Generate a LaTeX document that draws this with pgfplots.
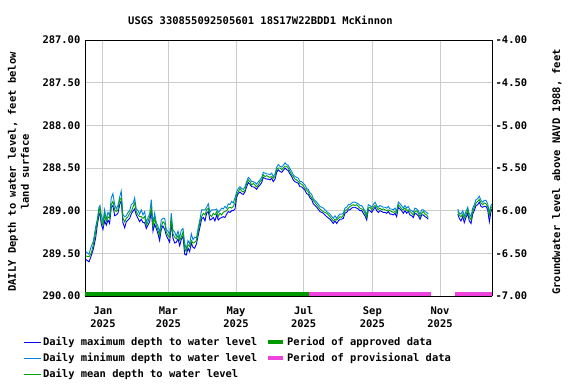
\documentclass[border=0pt]{standalone}
\usepackage{fontspec}
\setmainfont{DejaVu Sans Mono}
\usepackage{pgfplots}
\usepackage{pgfplotstable}
\pgfplotsset{compat=1.18}
\definecolor{maxc}{RGB}{0,0,255}
\definecolor{minc}{RGB}{0,130,220}
\definecolor{meanc}{RGB}{0,160,0}
\definecolor{apprc}{RGB}{0,153,0}
\definecolor{provc}{RGB}{238,68,221}
\definecolor{gridc}{RGB}{204,204,204}
\newcommand\f{\fontsize{10.5}{13}\selectfont\bfseries}
% day = days since 2025-01-01; depth in feet below land surface
\pgfplotstableread{
day max min mean
-15.6 289.57 289.48 289.53
-12.6 289.60 289.51 289.54
-10.6 289.53 289.42 289.50
-8.7 289.45 289.36 289.40
-6.6 289.32 289.19 289.25
-5.1 289.17 289.10 289.13
-3.6 289.05 288.96 289.01
-2.7 289.03 288.94 288.97
-1.5 289.16 289.05 289.13
0.0 289.22 289.13 289.17
1.5 289.12 288.99 289.05
3.0 289.17 289.10 289.13
4.5 289.11 289.02 289.07
6.0 289.15 289.06 289.09
7.5 288.96 288.85 288.93
9.0 288.94 288.80 288.89
10.6 289.06 288.93 288.99
12.0 289.05 288.98 289.01
13.5 289.03 288.94 288.99
15.1 288.93 288.84 288.87
16.5 288.88 288.77 288.85
18.0 289.14 289.05 289.09
19.6 289.20 289.07 289.13
21.0 289.13 289.06 289.09
22.6 289.11 289.02 289.07
24.1 289.09 289.00 289.03
25.5 289.04 288.93 289.01
27.3 289.00 288.91 288.95
28.6 288.98 288.85 288.91
30.0 289.05 288.98 289.01
31.6 289.09 289.00 289.05
33.1 289.13 289.04 289.07
34.5 289.10 288.99 289.07
36.1 289.14 289.05 289.09
37.6 289.14 289.01 289.07
39.1 289.21 289.14 289.17
40.6 289.17 289.08 289.13
42.1 289.13 289.04 289.07
43.6 289.00 288.87 288.97
45.1 289.24 289.15 289.19
46.6 289.16 289.03 289.09
48.1 289.21 289.14 289.17
49.6 289.27 289.18 289.23
51.1 289.35 289.26 289.29
52.6 289.22 289.11 289.19
54.1 289.18 289.09 289.13
55.7 289.22 289.09 289.15
57.1 289.29 289.22 289.25
58.6 289.33 289.24 289.29
60.2 289.37 289.28 289.31
61.6 289.14 289.03 289.11
63.1 289.32 289.23 289.27
64.7 289.38 289.25 289.31
66.1 289.37 289.30 289.33
67.7 289.33 289.24 289.29
69.2 289.41 289.32 289.35
70.6 289.34 289.23 289.31
72.2 289.30 289.21 289.25
73.7 289.51 289.38 289.44
75.1 289.52 289.45 289.48
76.7 289.44 289.35 289.40
78.2 289.48 289.39 289.42
79.7 289.38 289.27 289.35
81.2 289.43 289.34 289.38
82.7 289.44 289.31 289.37
84.3 289.39 289.32 289.35
85.9 289.29 289.20 289.25
87.5 289.19 289.10 289.13
89.0 289.10 288.99 289.07
90.5 289.08 288.99 289.03
92.0 289.12 288.99 289.05
93.5 289.03 288.96 288.99
95.0 289.01 288.92 288.97
96.5 289.11 289.02 289.05
98.0 289.10 288.99 289.07
99.5 289.08 288.99 289.03
101.0 289.12 288.99 289.05
102.6 289.05 288.98 289.01
104.0 289.11 289.02 289.07
105.5 289.09 289.00 289.03
107.1 289.08 288.97 289.05
108.5 289.07 288.98 289.02
110.0 289.08 288.95 289.01
111.6 289.04 288.97 289.00
113.0 289.01 288.92 288.97
114.6 289.02 288.93 288.96
116.1 289.00 288.89 288.97
117.5 289.00 288.91 288.95
119.1 288.98 288.85 288.91
120.6 288.84 288.78 288.81
122.0 288.80 288.74 288.78
123.6 288.78 288.72 288.74
125.1 288.80 288.74 288.77
126.6 288.81 288.75 288.78
128.1 288.78 288.72 288.76
129.6 288.72 288.66 288.68
131.1 288.67 288.61 288.64
132.6 288.69 288.63 288.66
134.1 288.72 288.66 288.70
135.6 288.72 288.66 288.68
137.1 288.73 288.67 288.70
138.6 288.75 288.69 288.72
140.1 288.72 288.66 288.70
141.6 288.70 288.64 288.66
143.2 288.67 288.61 288.64
144.6 288.61 288.55 288.58
146.1 288.62 288.56 288.60
147.7 288.63 288.57 288.59
149.1 288.63 288.57 288.60
150.6 288.64 288.58 288.61
152.2 288.62 288.56 288.60
153.6 288.66 288.60 288.62
155.2 288.63 288.57 288.60
156.7 288.55 288.49 288.52
158.1 288.52 288.46 288.50
159.7 288.54 288.48 288.50
161.2 288.55 288.49 288.52
162.6 288.53 288.47 288.50
164.2 288.50 288.44 288.48
165.7 288.52 288.46 288.48
167.1 288.53 288.47 288.50
168.7 288.57 288.51 288.54
170.2 288.60 288.54 288.58
171.7 288.64 288.58 288.60
173.2 288.66 288.60 288.63
174.7 288.67 288.61 288.64
176.2 288.68 288.62 288.66
177.7 288.72 288.66 288.68
179.2 288.72 288.66 288.69
180.7 288.74 288.68 288.71
182.2 288.76 288.70 288.74
183.7 288.80 288.74 288.76
185.2 288.81 288.75 288.78
186.7 288.85 288.79 288.82
188.3 288.87 288.81 288.85
189.7 288.92 288.86 288.88
192.8 288.96 288.90 288.93
195.7 289.01 288.95 288.98
198.7 289.03 288.97 289.01
201.8 289.07 289.01 289.03
204.8 289.10 289.04 289.07
207.7 289.15 289.09 289.12
209.3 289.12 289.06 289.10
210.8 289.15 289.09 289.11
212.3 289.12 289.06 289.09
213.8 289.10 289.04 289.07
215.3 289.10 289.04 289.08
216.8 289.09 289.03 289.05
218.3 289.03 288.97 289.00
219.8 289.02 288.96 288.99
221.3 288.99 288.93 288.97
222.8 288.99 288.93 288.95
224.3 288.97 288.91 288.94
225.8 288.96 288.90 288.93
227.3 288.96 288.90 288.94
228.8 288.97 288.91 288.93
230.3 288.98 288.92 288.95
231.8 289.00 288.94 288.97
233.4 289.00 288.94 288.98
234.8 289.03 288.97 288.99
236.3 289.06 289.00 289.03
237.9 289.11 289.05 289.08
239.3 288.99 288.93 288.97
240.8 289.00 288.94 288.96
242.4 289.02 288.96 288.99
243.8 288.99 288.93 288.96
245.4 288.96 288.90 288.94
246.9 289.00 288.94 288.96
248.3 289.02 288.96 288.99
249.9 289.00 288.94 288.97
251.4 289.01 288.95 288.99
252.8 289.02 288.96 288.98
254.4 289.02 288.96 288.99
255.9 289.03 288.97 289.00
257.4 289.01 288.95 288.99
258.9 289.04 288.98 289.00
260.4 289.04 288.98 289.01
261.9 289.05 288.99 289.02
263.4 289.03 288.97 289.01
264.9 289.07 289.01 289.03
266.4 288.96 288.90 288.93
267.9 288.98 288.92 288.95
269.4 289.00 288.94 288.98
270.9 289.03 288.97 288.99
272.4 289.00 288.94 288.97
273.9 289.03 288.97 289.00
275.4 289.01 288.95 288.99
276.9 289.05 288.99 289.01
278.5 289.06 289.00 289.03
279.9 289.08 289.02 289.05
281.4 289.03 288.97 289.01
283.0 289.04 288.98 289.00
284.4 289.06 289.00 289.03
286.0 289.10 289.04 289.07
287.5 289.05 288.99 289.03
288.9 289.05 288.99 289.01
290.5 289.07 289.01 289.04
292.0 289.08 289.02 289.05
293.4 289.10 289.04 289.08
nan nan nan nan
320.0 289.04 288.98 289.01
321.4 289.09 289.03 289.05
322.9 289.12 289.04 289.07
324.5 289.07 289.00 289.04
325.9 289.14 289.06 289.09
327.4 289.08 289.01 289.05
329.0 289.03 288.96 288.99
330.4 289.12 289.04 289.07
332.0 289.15 289.07 289.11
333.5 289.04 288.97 289.01
334.9 289.00 288.93 288.96
336.5 288.94 288.87 288.91
338.0 288.93 288.86 288.89
339.4 288.90 288.83 288.87
341.0 288.95 288.88 288.91
342.5 288.96 288.90 288.93
343.9 288.95 288.88 288.91
345.5 288.95 288.88 288.92
347.0 288.99 288.92 288.95
348.5 289.13 289.02 289.05
350.0 289.01 288.94 288.97
350.9 288.98 288.92 288.95
}\gwdata
\begin{document}
\f
\begin{tikzpicture}
\useasboundingbox (-85bp,-88bp) rectangle (491bp,296bp);
\begin{axis}[
  at={(0,0)}, anchor=south west,
  scale only axis, width=407bp, height=256bp,
  xmin=-16.2, xmax=350.9,
  ymin=287, ymax=290, y dir=reverse,
  axis line style={black, line width=1bp},
  xtick={0,59,120,181,243,304},
  xticklabels={{Jan\\2025},{Mar\\2025},{May\\2025},{Jul\\2025},{Sep\\2025},{Nov\\2025}},
  x tick label style={align=center, font=\f, yshift=-7bp},
  ytick={287,287.5,...,290},
  y tick label style={font=\f, xshift=-1bp},
  yticklabel style={/pgf/number format/.cd, fixed, fixed zerofill, precision=2, assume math mode=true},
  major tick length=0pt,
  grid=major, major grid style={gridc, line width=1bp},
  axis y line*=left,
  unbounded coords=jump,
  legend columns=2,
  legend style={draw=none, fill=none, font=\f, at={(axis description cs:-0.16,-0.145)}, anchor=north west,
    legend cell align=left, /tikz/every even column/.append style={column sep=7bp}, row sep=2bp},
]
\addlegendimage{maxc, line width=1bp}
\addlegendentry{Daily maximum depth to water level}
\addlegendimage{legend image code/.code={\draw[apprc, line width=4bp] (0bp,0bp) -- (15bp,0bp);}}
\addlegendentry{Period of approved data}
\addlegendimage{minc, line width=1bp}
\addlegendentry{Daily minimum depth to water level}
\addlegendimage{legend image code/.code={\draw[provc, line width=4bp] (0bp,0bp) -- (15bp,0bp);}}
\addlegendentry{Period of provisional data}
\addlegendimage{meanc, line width=1bp}
\addlegendentry{Daily mean depth to water level}
\addplot[maxc, line width=0.9bp, forget plot] table[x=day, y=max] {\gwdata};
\addplot[minc, line width=0.9bp, forget plot] table[x=day, y=min] {\gwdata};
\addplot[meanc, line width=0.9bp, forget plot] table[x=day, y=mean] {\gwdata};
\addplot[apprc, line width=4bp, forget plot] coordinates {(-16.2,289.973) (186.1,289.973)};
\addplot[provc, line width=4bp, forget plot] coordinates {(186.1,289.973) (295.9,289.973)};
\addplot[provc, line width=4bp, forget plot] coordinates {(317.5,289.973) (350.9,289.973)};
\end{axis}
\begin{axis}[
  at={(0,0)}, anchor=south west,
  scale only axis, width=407bp, height=256bp,
  xmin=-16.2, xmax=350.9,
  ymin=-7, ymax=-4,
  axis x line=none, axis y line*=right,
  axis line style={black, line width=1bp},
  ytick={-7,-6.5,...,-4},
  y tick label style={font=\f, xshift=0bp},
  yticklabel style={/pgf/number format/.cd, fixed, fixed zerofill, precision=2, assume math mode=true},
  major tick length=0pt,
]
\end{axis}
\node[font=\f] at (175.5bp,276bp) {USGS 330855092505601 18S17W22BDD1 McKinnon};
\node[font=\f, rotate=90, align=center] at (-66.5bp,124bp) {DAILY Depth to water level, feet below\\land surface};
\node[font=\f, rotate=90] at (472bp,124bp) {Groundwater level above NAVD 1988, feet};
\end{tikzpicture}
\end{document}
